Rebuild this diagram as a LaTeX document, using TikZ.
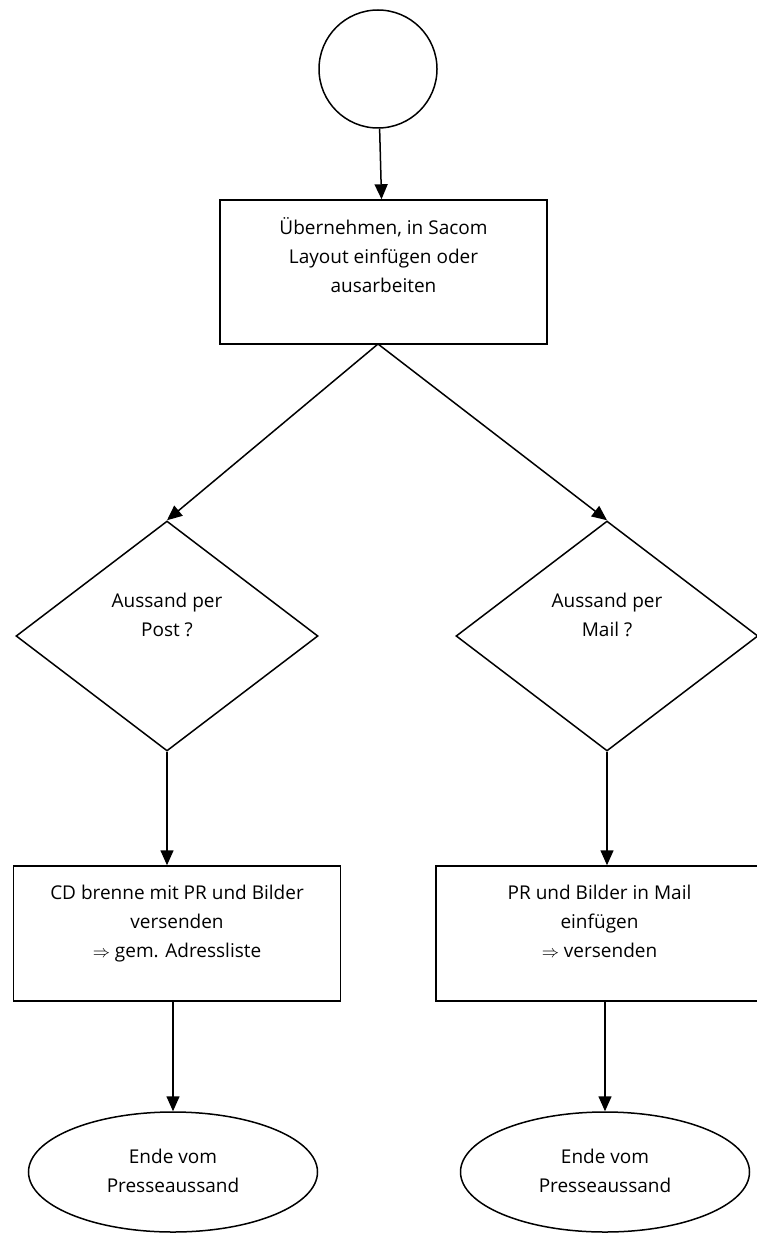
\documentclass[tikz,border=0pt]{standalone}
\usepackage{fontspec}
\setmainfont{Open Sans}
\usetikzlibrary{shapes.geometric,arrows.meta}
\begin{document}
\begin{tikzpicture}[x=1pt,y=-1pt,
  line width=1.5pt,
  every node/.style={font=\fontsize{19}{29}\selectfont},
  conn/.style={-{Triangle[length=15pt,width=13pt]}},
  procbox/.style={draw,rectangle,inner sep=0pt},
  decision/.style={draw,diamond,inner sep=0pt,shape aspect=1.33,minimum width=302pt,minimum height=230pt},
  terminal/.style={draw,ellipse,inner sep=0pt,minimum width=289pt,minimum height=120pt}]
\useasboundingbox (0,0) rectangle (756,1233);
\node[draw,circle,inner sep=0pt,minimum size=118pt] (start) at (378,69) {};
\node[procbox,minimum width=327pt,minimum height=144pt] (b1) at (383.5,272)
  {\begin{tabular}{c}Übernehmen, in Sacom\\Layout einfügen oder\\ausarbeiten\\[28pt]\end{tabular}};
\node[decision] (dl) at (167,636)
  {\begin{tabular}{c}Aussand per\\Post ?\\[40pt]\end{tabular}};
\node[decision] (dr) at (607,636)
  {\begin{tabular}{c}Aussand per\\Mail ?\\[40pt]\end{tabular}};
\node[procbox,minimum width=327pt,minimum height=135pt] (b2) at (177,933.5)
  {\begin{tabular}{c}CD brenne mit PR und Bilder\\versenden\\$\Rightarrow$ gem. Adressliste\\[21pt]\end{tabular}};
\node[procbox,minimum width=327pt,minimum height=135pt] (b3) at (599.5,933.5)
  {\begin{tabular}{c}PR und Bilder in Mail\\einfügen\\$\Rightarrow$ versenden\\[21pt]\end{tabular}};
\node[terminal] (e1) at (173,1172) {\begin{tabular}{c}Ende vom\\Presseaussand\end{tabular}};
\node[terminal] (e2) at (605,1172) {\begin{tabular}{c}Ende vom\\Presseaussand\end{tabular}};
\coordinate (split) at (378,344);
\draw[conn] (start) -- (b1);
\draw[conn] (split) -- (dl.north);
\draw[conn] (split) -- (dr.north);
\draw[conn] (dl.south) -- (dl.south |- b2.north);
\draw[conn] (dr.south) -- (dr.south |- b3.north);
\draw[conn] (b2.south -| e1.north) -- (e1.north);
\draw[conn] (b3.south -| e2.north) -- (e2.north);
\end{tikzpicture}
\end{document}
